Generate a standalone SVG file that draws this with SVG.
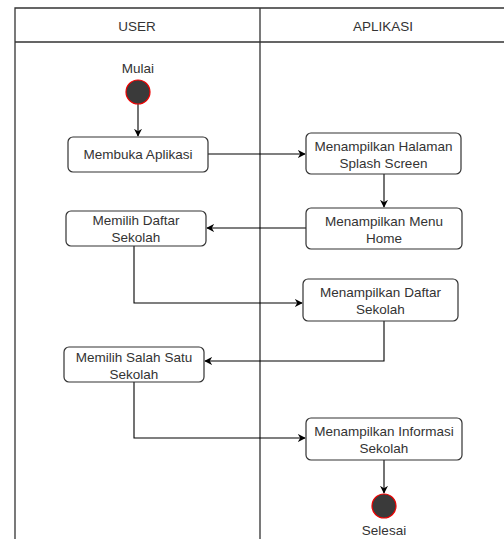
<svg xmlns="http://www.w3.org/2000/svg" width="504" height="539" viewBox="0 0 504 539">
<style>
text{font-family:"Liberation Sans",Arial,sans-serif;font-size:13.5px;fill:#333;text-anchor:middle;dominant-baseline:central}
.box{fill:#fff;stroke:#333;stroke-width:1.2}
.lane{fill:none;stroke:#333;stroke-width:1.3}
.c{fill:none;stroke:#000;stroke-width:1.1}
.dot{fill:#3a3a3a;stroke:#e00;stroke-width:1.2}
</style>
<defs>
<marker id="ah" viewBox="0 0 10 10" refX="9" refY="5" markerWidth="8" markerHeight="8" markerUnits="userSpaceOnUse" orient="auto">
<path d="M0,0 L10,5 L0,10 L3,5 Z" fill="#000"/>
</marker>
</defs>
<rect width="504" height="539" fill="#fff"/>
<g id="lanes">
<path class="lane" d="M15,539 V8 H510 M260,8 V539 M15,42 H510"/>
<text x="137" y="26">USER</text>
<text x="383" y="26">APLIKASI</text>
</g>
<g id="connectors">
<path class="c" d="M138,104 V136" marker-end="url(#ah)"/>
<path class="c" d="M208,154 H305" marker-end="url(#ah)"/>
<path class="c" d="M384,174 V207" marker-end="url(#ah)"/>
<path class="c" d="M306,228 H207" marker-end="url(#ah)"/>
<path class="c" d="M134,246 V303 H302" marker-end="url(#ah)"/>
<path class="c" d="M384,321 V361 H205" marker-end="url(#ah)"/>
<path class="c" d="M134,382 V438 H305" marker-end="url(#ah)"/>
<path class="c" d="M384,460 V493" marker-end="url(#ah)"/>
</g>
<g id="start">
<text x="138" y="68">Mulai</text>
<circle class="dot" cx="138" cy="92" r="12"/>
</g>
<g id="membuka">
<rect class="box" x="68" y="137" width="140" height="35" rx="5"/>
<text x="138" y="154.5">Membuka Aplikasi</text>
</g>
<g id="splash">
<rect class="box" x="306" y="133" width="155" height="41" rx="5"/>
<text x="383.5" y="146">Menampilkan Halaman</text>
<text x="383.5" y="163">Splash Screen</text>
</g>
<g id="menu">
<rect class="box" x="306" y="208" width="156" height="41" rx="5"/>
<text x="384" y="221">Menampilkan Menu</text>
<text x="384" y="238">Home</text>
</g>
<g id="pilihdaftar">
<rect class="box" x="66" y="211" width="140" height="35" rx="5"/>
<text x="136" y="220">Memilih Daftar</text>
<text x="136" y="237">Sekolah</text>
</g>
<g id="daftar">
<rect class="box" x="303" y="279" width="155" height="42" rx="5"/>
<text x="380.5" y="292">Menampilkan Daftar</text>
<text x="380.5" y="309">Sekolah</text>
</g>
<g id="pilihsatu">
<rect class="box" x="64" y="347" width="140" height="35" rx="5"/>
<text x="134" y="357">Memilih Salah Satu</text>
<text x="134" y="374">Sekolah</text>
</g>
<g id="informasi">
<rect class="box" x="306" y="418" width="156" height="42" rx="5"/>
<text x="384" y="431">Menampilkan Informasi</text>
<text x="384" y="448">Sekolah</text>
</g>
<g id="end">
<circle class="dot" cx="384" cy="506" r="12"/>
<text x="384" y="530">Selesai</text>
</g>
</svg>
